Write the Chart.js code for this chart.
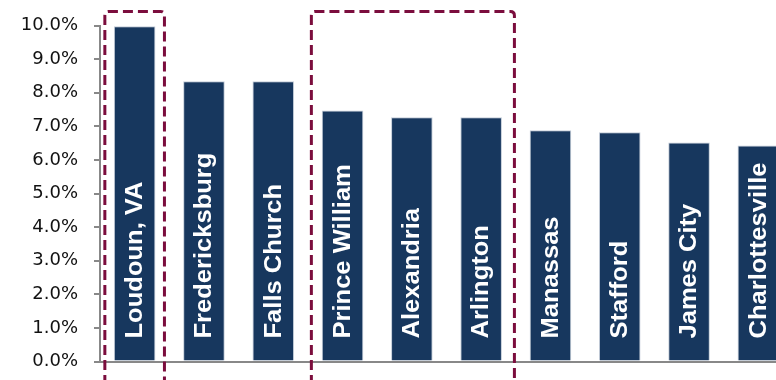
<!DOCTYPE html>
<html>
<head>
<meta charset="utf-8">
<script src="https://cdn.jsdelivr.net/npm/chart.js@4/dist/chart.umd.min.js"></script>
<style>
  html, body { margin: 0; padding: 0; background: #ffffff; overflow: hidden; width: 776px; height: 380px; }
  #wrap { position: relative; width: 800px; height: 380px; }
  canvas { display: block; }
</style>
</head>
<body>
<div id="wrap"><canvas id="c" width="800" height="380"></canvas></div>
<script>
const categories = ["Loudoun, VA", "Fredericksburg", "Falls Church", "Prince William", "Alexandria", "Arlington", "Manassas", "Stafford", "James City", "Charlottesville"];
const values = [9.98, 8.34, 8.34, 7.47, 7.27, 7.27, 6.88, 6.82, 6.52, 6.43];
const yTicks = [0, 1, 2, 3, 4, 5, 6, 7, 8, 9, 10];
const highlightGroups = [[0, 0], [3, 5]];

const barColor = '#17375e';
const dashColor = '#7b0d3d';

const barLabelPlugin = {
  id: 'barLabels',
  afterDatasetsDraw(chart) {
    const ctx = chart.ctx;
    const meta = chart.getDatasetMeta(0);
    ctx.save();
    ctx.fillStyle = '#ffffff';
    ctx.font = 'bold 23px "Liberation Sans", Arial, sans-serif';
    ctx.textAlign = 'left';
    ctx.textBaseline = 'middle';
    meta.data.forEach((el, i) => {
      ctx.save();
      ctx.translate(el.x + 1, el.base - 22);
      ctx.rotate(-Math.PI / 2);
      ctx.scale(1.11, 1);
      ctx.fillText(categories[i], 0, 0);
      ctx.restore();
    });
    ctx.restore();
  }
};

const dashBoxPlugin = {
  id: 'dashBoxes',
  afterDatasetsDraw(chart) {
    const ctx = chart.ctx;
    const xs = chart.scales.x;
    const ys = chart.scales.y;
    const cw = xs.width / categories.length;
    const top = ys.getPixelForValue(10.42);
    const bottom = chart.height + 20;
    ctx.save();
    ctx.strokeStyle = dashColor;
    ctx.lineWidth = 3;
    ctx.setLineDash([10, 5]);
    highlightGroups.forEach(([a, b]) => {
      const single = a === b;
      const left = xs.getPixelForValue(a) - (single ? 0.43 : 0.45) * cw;
      const right = xs.getPixelForValue(b) + (single ? 0.43 : 0.48) * cw;
      const r = 4;
      ctx.beginPath();
      ctx.moveTo(left, bottom);
      ctx.lineTo(left, top + r);
      ctx.quadraticCurveTo(left, top, left + r, top);
      ctx.lineTo(right - r, top);
      ctx.quadraticCurveTo(right, top, right, top + r);
      ctx.lineTo(right, bottom);
      ctx.stroke();
    });
    ctx.restore();
  }
};

new Chart(document.getElementById('c'), {
  type: 'bar',
  data: {
    labels: categories,
    datasets: [{
      data: values,
      backgroundColor: barColor,
      borderColor: '#c3ccd8',
      borderWidth: 1,
      barPercentage: 0.6,
      categoryPercentage: 1.0
    }]
  },
  options: {
    responsive: false,
    animation: false,
    devicePixelRatio: 1,
    layout: { padding: { top: 25.5, right: 7, bottom: 18.5, left: 0 } },
    plugins: { legend: { display: false }, tooltip: { enabled: false } },
    scales: {
      x: {
        grid: { display: false, drawTicks: false, tickLength: 0 },
        ticks: { display: false },
        border: { display: true, color: '#888888', width: 2 }
      },
      y: {
        min: 0,
        max: 10,
        afterFit(scale) { scale.width = 100; scale.paddingTop = 0; scale.paddingBottom = 0; },
        afterBuildTicks(scale) { scale.ticks = yTicks.map(v => ({ value: v })); },
        ticks: {
          padding: 16,
          color: '#111111',
          font: { family: '"DejaVu Sans", sans-serif', size: 18 },
          callback: v => Number(v).toFixed(1) + '%'
        },
        grid: { drawOnChartArea: false, drawTicks: true, tickLength: 6, color: '#888888', lineWidth: 2 },
        border: { display: true, color: '#888888', width: 2 }
      }
    }
  },
  plugins: [dashBoxPlugin, barLabelPlugin]
});
</script>
</body>
</html>
